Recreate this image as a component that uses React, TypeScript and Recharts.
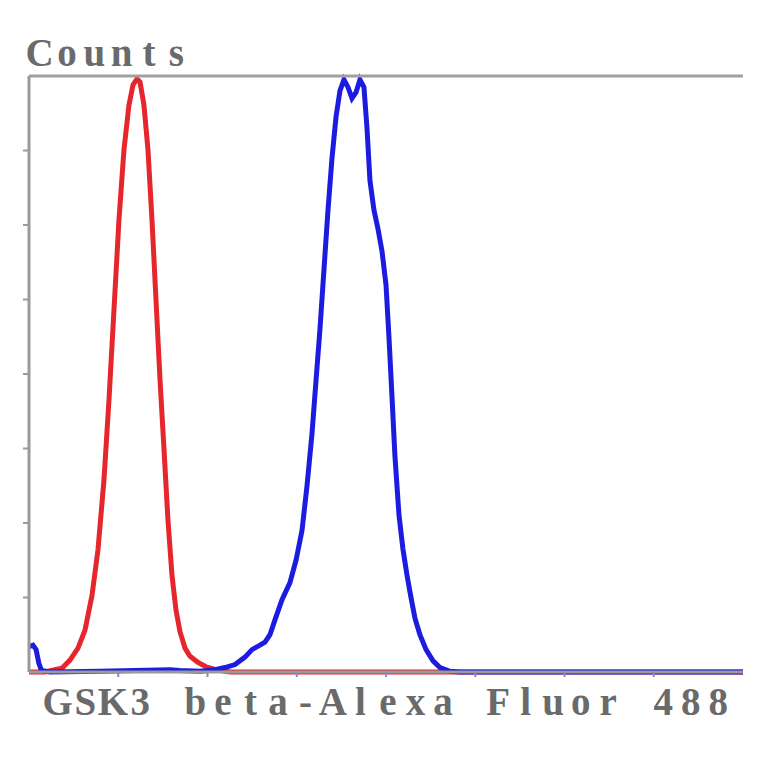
import React from 'react';
import { LineChart, Line, XAxis, YAxis } from 'recharts';

// Fluorescence channel (x) and counts (y)
const isotypeX = [0, 17.9, 29.1, 37, 45.9, 54.9, 62.7, 70.6, 77.3, 84, 89.6, 95.2, 100.8, 106.4, 112, 116.5, 121, 124.4, 128.8, 133.3, 137.8, 142.3, 146.8, 151.3, 155.7, 160.2, 164.7, 169.2, 174.8, 180.4, 189.3, 198.3, 209.5, 225.2, 400, 600, 800];
const isotypeY = [0, 0, 0.03, 0.05, 0.16, 0.32, 0.56, 1.03, 1.64, 2.58, 3.65, 4.86, 6.07, 7.01, 7.61, 7.88, 7.96, 7.92, 7.61, 7.01, 6.07, 4.99, 3.92, 2.98, 2.04, 1.3, 0.83, 0.54, 0.32, 0.21, 0.13, 0.07, 0.03, 0, 0, 0, 0];

const sampleX = [0, 4.5, 8, 11, 14, 23.5, 79.5, 158, 169, 191.6, 208.4, 219.6, 230.8, 242, 249.8, 258.8, 264.4, 270, 275.6, 283.5, 292.4, 299.2, 305.9, 311.5, 317.1, 321.5, 326, 330.5, 335, 339.5, 344, 348.4, 352.9, 357.4, 361.9, 366.4, 370.8, 375.3, 378.7, 382, 386.5, 391, 395.5, 400, 403.3, 406.7, 410, 414.6, 419, 423.5, 428, 432.5, 438, 444.9, 452.7, 460.5, 471.7, 482.9, 600, 800];
const sampleY = [0.34, 0.36, 0.3, 0.12, 0.02, 0, 0.01, 0.03, 0.02, 0.01, 0.03, 0.06, 0.1, 0.2, 0.3, 0.36, 0.4, 0.5, 0.7, 0.97, 1.2, 1.5, 1.9, 2.5, 3.2, 3.9, 4.6, 5.4, 6.2, 6.9, 7.45, 7.8, 7.95, 7.85, 7.7, 7.78, 7.95, 7.85, 7.3, 6.6, 6.2, 5.95, 5.65, 5.2, 4.5, 3.7, 2.9, 2.1, 1.65, 1.3, 1.0, 0.72, 0.5, 0.3, 0.15, 0.06, 0.01, 0, 0, 0];

const xTicks = [100, 200, 300, 400, 500, 600, 700];
const yTicks = [1, 2, 3, 4, 5, 6, 7];
const xTitle = 'GSK3 beta-Alexa Fluor 488';
const yTitle = 'Counts';

const isotype = isotypeX.map((x, i) => ({ x, y: isotypeY[i] }));
const sample = sampleX.map((x, i) => ({ x, y: sampleY[i] }));

const textStyle = {
  fontFamily: '"Liberation Serif", "DejaVu Serif", serif',
  fontWeight: 700,
  fontSize: 39,
  fill: '#6a6a6a',
};

// Monospaced layout: every character gets its own equal-width cell
const MonoText = ({ text, x0, width, y }: { text: string; x0: number; width: number; y: number }) => {
  const chars = text.split('');
  const cell = width / chars.length;
  return (
    <text y={y} textAnchor="middle" style={textStyle}>
      {chars.map((c, i) => (
        <tspan key={i} x={x0 + cell * (i + 0.5)}>{c === ' ' ? '\u00a0' : c}</tspan>
      ))}
    </text>
  );
};

const XTitle = (props: any) => {
  const vb = props.viewBox || {};
  const w = 688;
  return <MonoText text={xTitle} x0={vb.x + vb.width / 2 + 2 - w / 2} width={w} y={vb.y + 43} />;
};

const YTitle = (props: any) => {
  const vb = props.viewBox || {};
  return <MonoText text={yTitle} x0={vb.x - 3} width={164} y={vb.y - 9} />;
};

export default function App() {
  return (
    <div style={{ position: 'absolute', left: 0, top: 0, width: 764, height: 764, background: '#fff' }}>
      <LineChart width={764} height={764} margin={{ top: 75, right: 21, bottom: 0, left: 28 }}>
        <XAxis
          dataKey="x"
          type="number"
          domain={[0, 800]}
          ticks={xTicks}
          allowDataOverflow
          height={92}
          axisLine={{ stroke: '#9a9a9a', strokeWidth: 3 }}
          tickLine={{ stroke: '#8a8ac0', strokeWidth: 2 }}
          tickSize={5}
          tickFormatter={() => ''}
          label={<XTitle />}
        />
        <XAxis
          xAxisId="top"
          orientation="top"
          dataKey="x"
          type="number"
          domain={[0, 800]}
          height={1}
          ticks={xTicks}
          tick={false}
          tickLine={false}
          axisLine={{ stroke: '#a0a0a0', strokeWidth: 3 }}
          label={<YTitle />}
        />
        <YAxis
          type="number"
          domain={[0, 8]}
          ticks={yTicks}
          width={1}
          axisLine={{ stroke: '#9a9a9a', strokeWidth: 3 }}
          tickLine={{ stroke: '#9a9a9a', strokeWidth: 2 }}
          tickSize={6}
          tickFormatter={() => ''}
        />
        <Line data={isotype} dataKey="y" type="linear" stroke="#e5262c" strokeWidth={5} dot={false} isAnimationActive={false} />
        <Line data={sample} dataKey="y" type="linear" stroke="#1c1ce0" strokeWidth={5} dot={false} isAnimationActive={false} />
      </LineChart>
    </div>
  );
}
